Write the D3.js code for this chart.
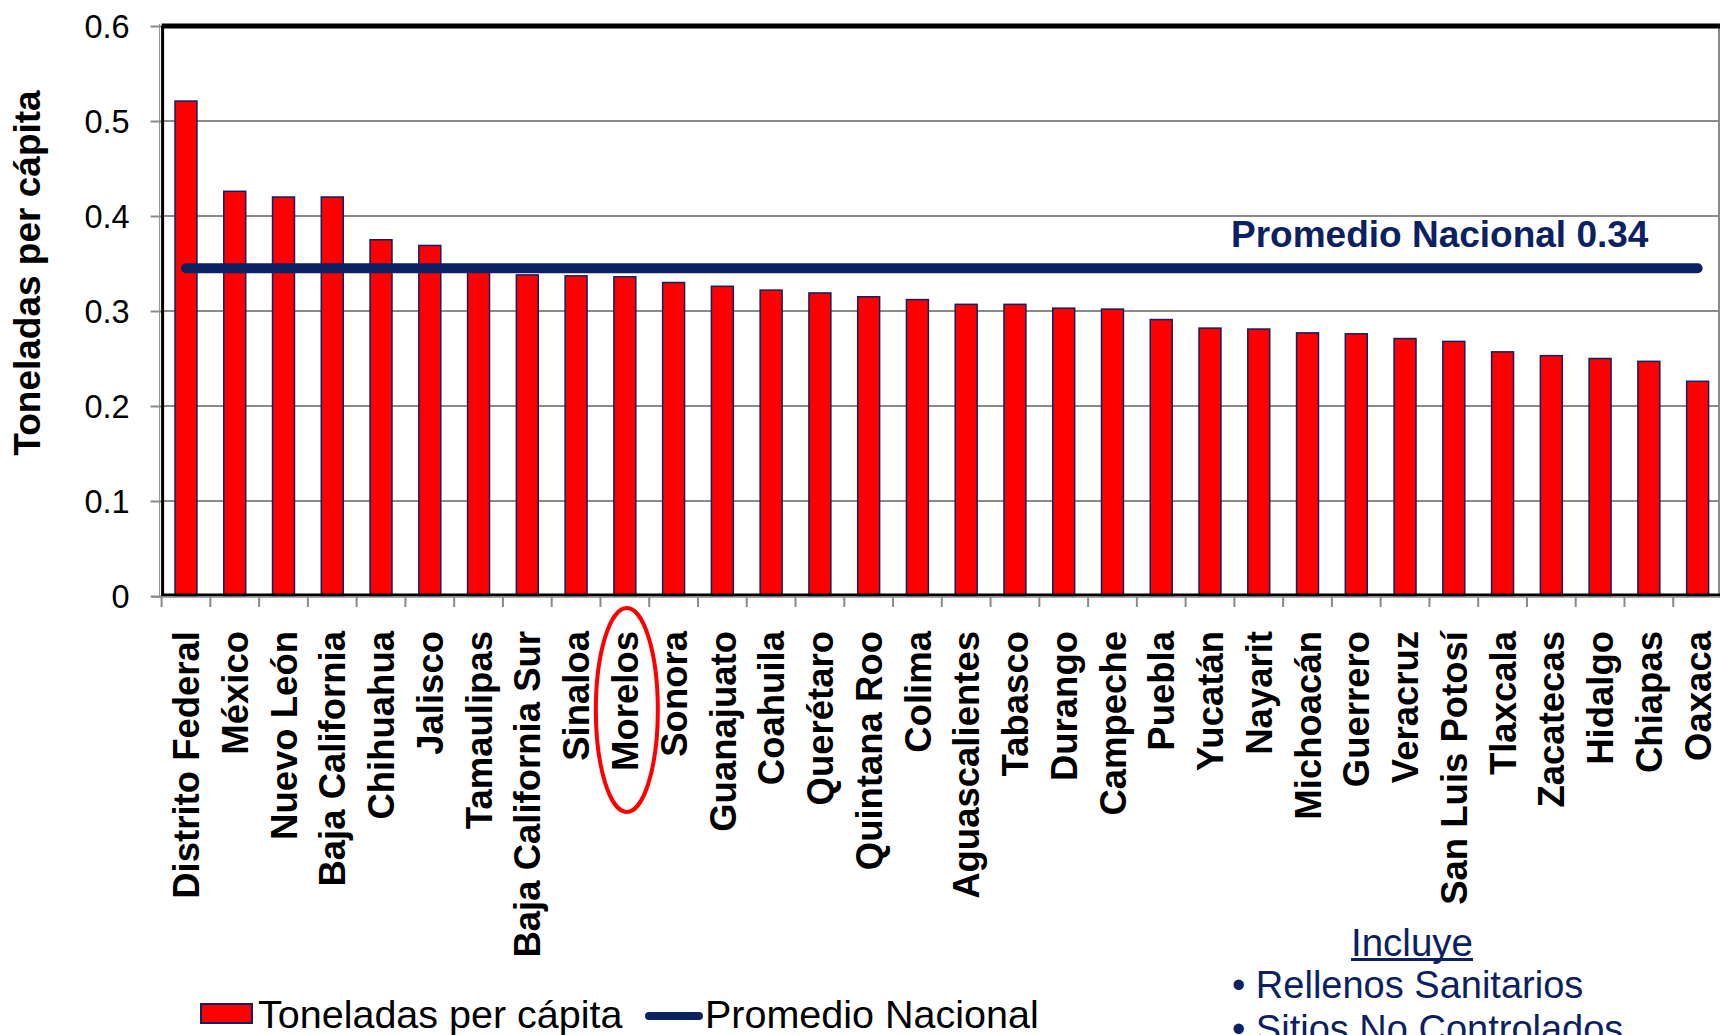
<!DOCTYPE html>
<html>
<head>
<meta charset="utf-8">
<script src="https://cdn.jsdelivr.net/npm/d3@7"></script>
<style>
  html, body { margin: 0; padding: 0; background: #fff; }
  svg { display: block; font-family: "Liberation Sans", Arial, sans-serif; }
</style>
</head>
<body>
<svg id="chart" width="1720" height="1035"></svg>
<script>
const states = ["Distrito Federal","México","Nuevo León","Baja California","Chihuahua","Jalisco","Tamaulipas","Baja California Sur","Sinaloa","Morelos","Sonora","Guanajuato","Coahuila","Querétaro","Quintana Roo","Colima","Aguascalientes","Tabasco","Durango","Campeche","Puebla","Yucatán","Nayarit","Michoacán","Guerrero","Veracruz","San Luis Potosí","Tlaxcala","Zacatecas","Hidalgo","Chiapas","Oaxaca"];
const values = [0.521,0.426,0.420,0.420,0.375,0.369,0.343,0.338,0.337,0.336,0.330,0.326,0.322,0.319,0.315,0.312,0.307,0.307,0.303,0.302,0.291,0.282,0.281,0.277,0.276,0.271,0.268,0.257,0.253,0.250,0.247,0.226];
const promedioNacional = 0.345;
const promedioLabel = "Promedio Nacional 0.34";
const yTicks = [0, 0.1, 0.2, 0.3, 0.4, 0.5, 0.6];
const yTitle = "Toneladas per cápita";
const legendLabels = ["Toneladas per cápita", "Promedio Nacional"];
const noteTitle = "Incluye";
const noteItems = ["• Rellenos Sanitarios", "• Sitios No Controlados"];
const highlighted = "Morelos";

(function () {
const navy = "#0b2161";
const svg = d3.select("#chart");

const pL = 161.6, pR = 1722, pT = 26, pB = 596;
const x = d3.scaleBand().domain(states).range([pL, pR]).paddingInner(0.55).paddingOuter(0.275);
const y = d3.scaleLinear().domain([0, 0.6]).range([pB, pT]);

// gridlines
svg.append("g").selectAll("line").data(yTicks.filter(t => t > 0 && t < 0.6)).join("line")
  .attr("x1", pL).attr("x2", 1720).attr("y1", d => y(d)).attr("y2", d => y(d))
  .attr("stroke", "#8a8a8a").attr("stroke-width", 2);

// right frame
svg.append("line").attr("x1", 1719).attr("x2", 1719).attr("y1", pT).attr("y2", pB)
  .attr("stroke", "#8a8a8a").attr("stroke-width", 2);

// y axis
const yAxis = d3.axisLeft(y).tickValues(yTicks).tickFormat(d => d === 0 ? "0" : d3.format(".1f")(d)).tickSize(11).tickPadding(21);
const ya = svg.append("g").attr("transform", `translate(${pL},0)`).call(yAxis);
ya.select(".domain").remove();
ya.selectAll(".tick line").attr("stroke", "#8a8a8a").attr("stroke-width", 2);
ya.selectAll(".tick text").attr("font-size", 32.5).attr("fill", "#000").attr("font-family", "Liberation Sans, Arial, sans-serif").attr("dy", "0.35em");

// bars
svg.append("g").selectAll("rect").data(states).join("rect")
  .attr("x", d => x(d)).attr("width", x.bandwidth())
  .attr("y", (d, i) => y(values[i])).attr("height", (d, i) => y(0) - y(values[i]))
  .attr("fill", "#ff0000").attr("stroke", navy).attr("stroke-width", 1.5);

// top border
svg.append("line").attr("x1", pL).attr("x2", 1720).attr("y1", y(0.6)).attr("y2", y(0.6))
  .attr("stroke", "#000").attr("stroke-width", 5);
// left axis line
svg.append("line").attr("x1", pL - 2).attr("x2", pL - 2).attr("y1", y(0.6) - 2).attr("y2", pB + 1)
  .attr("stroke", "#8a8a8a").attr("stroke-width", 1);
svg.append("line").attr("x1", pL + 1).attr("x2", pL + 1).attr("y1", y(0.6)).attr("y2", pB)
  .attr("stroke", "#000").attr("stroke-width", 3);
// zero line
svg.append("line").attr("x1", pL).attr("x2", 1720).attr("y1", y(0) - 1).attr("y2", y(0) - 1)
  .attr("stroke", "#000").attr("stroke-width", 3);
svg.append("line").attr("x1", pL - 10).attr("x2", 1720).attr("y1", y(0) + 1).attr("y2", y(0) + 1)
  .attr("stroke", "#8a8a8a").attr("stroke-width", 1.5);

// x ticks at band boundaries
const step = x.step();
const bounds = d3.range(states.length + 1).map(i => pL + i * step);
svg.append("g").selectAll("line").data(bounds).join("line")
  .attr("x1", d => d).attr("x2", d => d).attr("y1", pB).attr("y2", pB + 11)
  .attr("stroke", "#8a8a8a").attr("stroke-width", 2);

// x labels
const xa = svg.append("g").attr("transform", `translate(0,${pB})`)
  .call(d3.axisBottom(x).tickSize(0).tickPadding(0));
xa.select(".domain").remove();
xa.selectAll(".tick text")
  .attr("font-size", 36.5).attr("font-weight", "bold").attr("fill", "#000")
  .attr("font-family", "Liberation Sans, Arial, sans-serif")
  .attr("text-anchor", "end")
  .attr("transform", "rotate(-90)")
  .attr("x", -35).attr("y", 0).attr("dy", "0.36em");

// highlight ellipse
svg.append("ellipse")
  .attr("cx", x(highlighted) + x.bandwidth() / 2 + 2).attr("cy", 710)
  .attr("rx", 31).attr("ry", 102)
  .attr("fill", "none").attr("stroke", "#ff0000").attr("stroke-width", 4);

// promedio line
svg.append("line")
  .attr("x1", x(states[0]) + x.bandwidth() / 2).attr("x2", x(states[states.length - 1]) + x.bandwidth() / 2)
  .attr("y1", y(promedioNacional)).attr("y2", y(promedioNacional))
  .attr("stroke", navy).attr("stroke-width", 10).attr("stroke-linecap", "round");
svg.append("text").attr("x", 1231).attr("y", 247)
  .attr("font-size", 37).attr("font-weight", "bold").attr("fill", navy)
  .text(promedioLabel);

// y title
svg.append("text").attr("transform", "translate(40,273) rotate(-90)")
  .attr("text-anchor", "middle").attr("font-size", 37).attr("font-weight", "bold").attr("fill", "#000")
  .text(yTitle);

// legend
svg.append("rect").attr("x", 201).attr("y", 1004).attr("width", 51).attr("height", 19)
  .attr("fill", "#ff0000").attr("stroke", navy).attr("stroke-width", 2);
svg.append("text").attr("x", 258).attr("y", 1028).attr("font-size", 39.5).attr("fill", "#000").text(legendLabels[0]);
svg.append("line").attr("x1", 649).attr("x2", 699).attr("y1", 1016).attr("y2", 1016)
  .attr("stroke", navy).attr("stroke-width", 8).attr("stroke-linecap", "round");
svg.append("text").attr("x", 705).attr("y", 1028).attr("font-size", 39.5).attr("fill", "#000").text(legendLabels[1]);

// note
const nt = svg.append("text").attr("x", 1412).attr("y", 956).attr("text-anchor", "middle")
  .attr("font-size", 38.5).attr("fill", navy).text(noteTitle);
const w = nt.node().getComputedTextLength();
svg.append("line").attr("x1", 1412 - w / 2).attr("x2", 1412 + w / 2).attr("y1", 959.5).attr("y2", 959.5)
  .attr("stroke", navy).attr("stroke-width", 3);
svg.append("g").selectAll("text").data(noteItems).join("text")
  .attr("x", 1232).attr("y", (d, i) => 998 + i * 44)
  .attr("font-size", 38).attr("fill", navy).text(d => d);
})();
</script>
</body>
</html>
